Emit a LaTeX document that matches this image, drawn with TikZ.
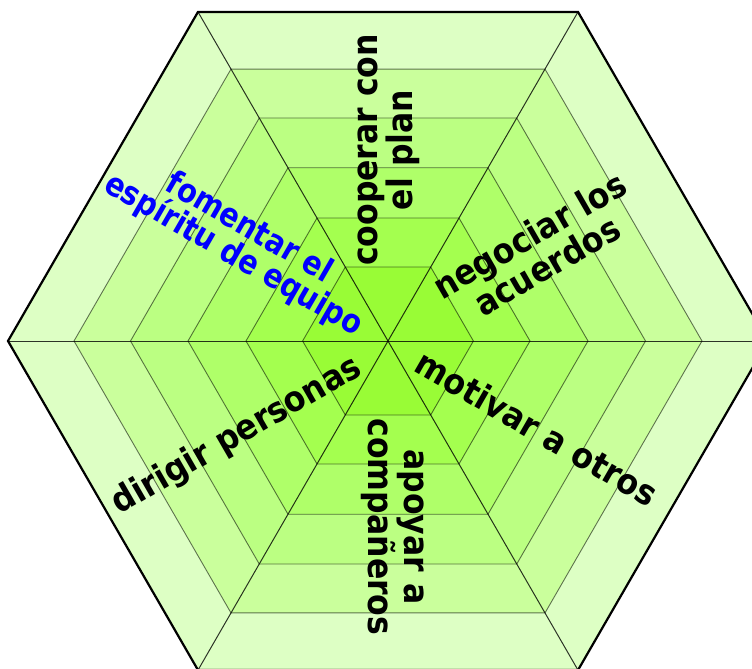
\documentclass[tikz,border=0pt]{standalone}
\usepackage{fontspec}
\setmainfont{DejaVu Sans}
\definecolor{c6}{HTML}{DDFFC4}
\definecolor{c5}{HTML}{CAFF9C}
\definecolor{c4}{HTML}{BBFF82}
\definecolor{c3}{HTML}{AFFF69}
\definecolor{c2}{HTML}{A4FF4F}
\definecolor{c1}{HTML}{99FC36}
\begin{document}
\begin{tikzpicture}[x=1pt,y=-1pt,
  lbl/.style={font=\fontsize{35}{31}\selectfont\bfseries, align=center, inner sep=0pt},
  bluelbl/.style={font=\fontsize{33}{31}\selectfont\bfseries, align=center, inner sep=0pt, text=blue},
  gridline/.style={draw=black, draw opacity=0.55, line width=0.9pt},
  spoke/.style={draw=black, draw opacity=0.8, line width=1pt},
  rim/.style={draw=black, line width=2.2pt, line join=miter}]
\useasboundingbox (0,0) rectangle (752,669);
\clip (0,0) rectangle (752,669);
\coordinate (C) at (388,341);
\foreach \r/\c in {380/c6,314/c5,257.5/c4,200/c3,142/c2,85.4/c1} {
  \fill[\c, shift={(C)}] (0:\r pt) -- (60:\r pt) -- (120:\r pt) -- (180:\r pt) -- (240:\r pt) -- (300:\r pt) -- cycle;
}
\foreach \r in {314,257.5,200,142,85.4} {
  \draw[gridline, shift={(C)}] (0:\r pt) -- (60:\r pt) -- (120:\r pt) -- (180:\r pt) -- (240:\r pt) -- (300:\r pt) -- cycle;
}
\foreach \a in {0,60,...,300} {
  \draw[spoke, shift={(C)}] (0,0) -- (\a:380pt);
}
\draw[rim, shift={(C)}] (0:380pt) -- (60:380pt) -- (120:380pt) -- (180:380pt) -- (240:380pt) -- (300:380pt) -- cycle;
\node[lbl, rotate=90, xscale=0.9] (t1) at (389,150) {cooperar con\\el plan};
\node[lbl, rotate=30, xscale=0.9] (t2) at (538,250) {negociar los\\acuerdos};
\node[lbl, rotate=-30, xscale=0.9] (t3) at (537,428) {motivar a otros};
\node[lbl, rotate=-90, xscale=0.9] (t4) at (393,527) {apoyar a\\compañeros};
\node[lbl, rotate=30, xscale=0.9] (t5) at (237,436) {dirigir personas};
\node[bluelbl, rotate=-30, xscale=0.86] (t6) at (241,242) {fomentar el\\espíritu de equipo};
\end{tikzpicture}
\end{document}
